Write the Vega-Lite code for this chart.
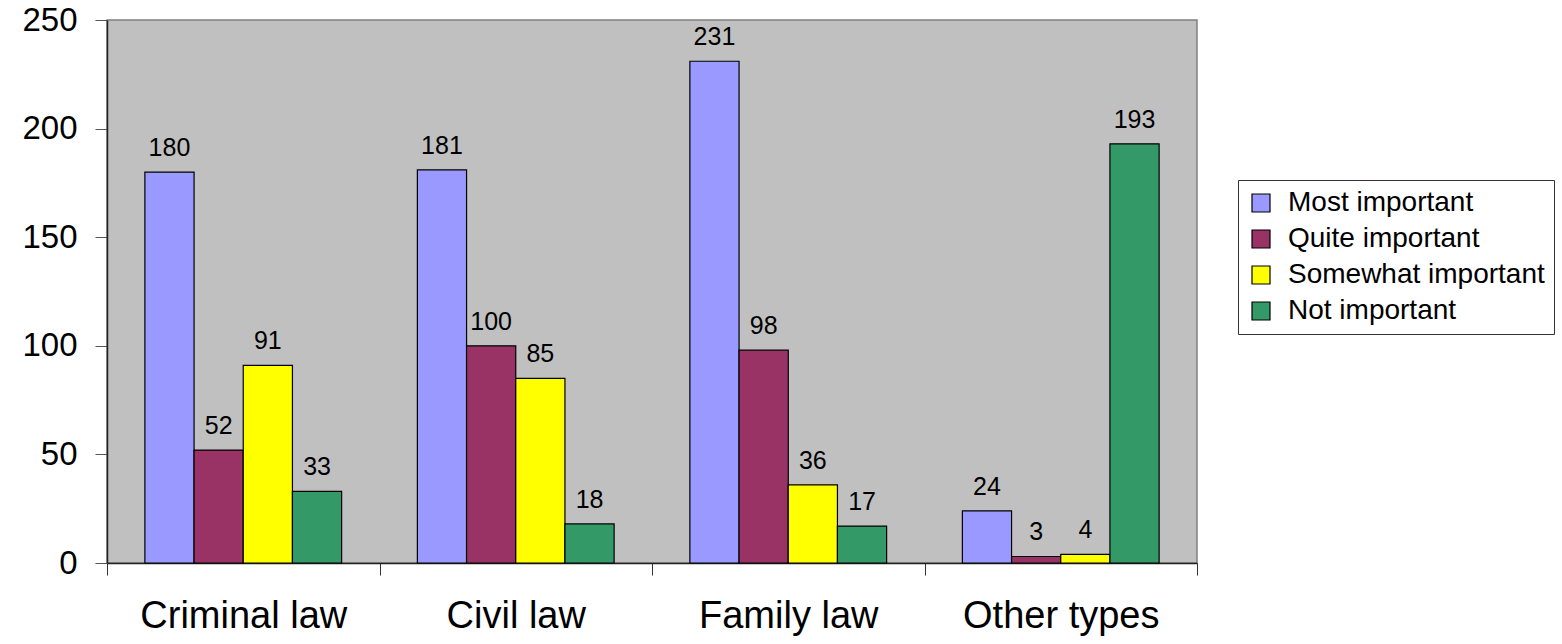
{
  "$schema": "https://vega.github.io/schema/vega-lite/v6.json",
  "width": 1090,
  "height": 543,
  "autosize": {"type": "none"},
  "padding": {"left": 107, "top": 20, "right": 365, "bottom": 81},
  "background": "white",
  "config": {
    "font": "Liberation Sans",
    "view": {"fill": "#C0C0C0", "stroke": "#808080", "strokeWidth": 1.5}
  },
  "data": {
    "values": [
      {"type": "Criminal law", "importance": "Most important", "count": 180},
      {"type": "Criminal law", "importance": "Quite important", "count": 52},
      {"type": "Criminal law", "importance": "Somewhat important", "count": 91},
      {"type": "Criminal law", "importance": "Not important", "count": 33},
      {"type": "Civil law", "importance": "Most important", "count": 181},
      {"type": "Civil law", "importance": "Quite important", "count": 100},
      {"type": "Civil law", "importance": "Somewhat important", "count": 85},
      {"type": "Civil law", "importance": "Not important", "count": 18},
      {"type": "Family law", "importance": "Most important", "count": 231},
      {"type": "Family law", "importance": "Quite important", "count": 98},
      {"type": "Family law", "importance": "Somewhat important", "count": 36},
      {"type": "Family law", "importance": "Not important", "count": 17},
      {"type": "Other types", "importance": "Most important", "count": 24},
      {"type": "Other types", "importance": "Quite important", "count": 3},
      {"type": "Other types", "importance": "Somewhat important", "count": 4},
      {"type": "Other types", "importance": "Not important", "count": 193}
    ]
  },
  "encoding": {
    "x": {
      "field": "type",
      "type": "nominal",
      "sort": ["Criminal law", "Civil law", "Family law", "Other types"],
      "scale": {"paddingInner": 0, "paddingOuter": 0},
      "axis": {
        "title": null,
        "labelAngle": 0,
        "labelFontSize": 38,
        "labelLimit": 1000,
        "labelColor": "#000000",
        "labelPadding": 22,
        "tickBand": "extent",
        "tickSize": 12,
        "tickColor": "#333333",
        "domainColor": "#222222",
        "domainWidth": 1.5,
        "grid": false
      }
    },
    "xOffset": {
      "field": "importance",
      "type": "nominal",
      "sort": ["Most important", "Quite important", "Somewhat important", "Not important"],
      "scale": {"paddingInner": 0, "paddingOuter": 0.77}
    },
    "y": {
      "field": "count",
      "type": "quantitative",
      "scale": {"domain": [0, 250], "nice": false},
      "axis": {
        "title": null,
        "values": [0, 50, 100, 150, 200, 250],
        "grid": false,
        "labelFontSize": 33,
        "labelColor": "#000000",
        "labelPadding": 18,
        "tickSize": 12,
        "tickColor": "#555555",
        "domainColor": "#222222",
        "domainWidth": 1.5
      }
    }
  },
  "layer": [
    {
      "mark": {"type": "bar", "stroke": "#000000", "strokeWidth": 1.2},
      "encoding": {
        "color": {
          "field": "importance",
          "type": "nominal",
          "sort": ["Most important", "Quite important", "Somewhat important", "Not important"],
          "scale": {
            "domain": ["Most important", "Quite important", "Somewhat important", "Not important"],
            "range": ["#9999FF", "#993366", "#FFFF00", "#339966"]
          },
          "legend": {
            "title": null,
            "orient": "none",
            "legendX": 1131,
            "legendY": 160,
            "direction": "vertical",
            "fillColor": "#FFFFFF",
            "strokeColor": "#333333",
            "padding": 9,
            "labelFontSize": 28,
            "labelColor": "#000000",
            "labelLimit": 400,
            "labelOffset": 13,
            "rowPadding": 8,
            "symbolType": "square",
            "symbolSize": 324,
            "symbolStrokeColor": "#000000",
            "symbolStrokeWidth": 1.2,
            "symbolOpacity": 1
          }
        }
      }
    },
    {
      "mark": {"type": "text", "baseline": "alphabetic", "dy": -16, "fontSize": 25, "color": "#000000"},
      "encoding": {
        "text": {"field": "count", "type": "quantitative"}
      }
    }
  ]
}
